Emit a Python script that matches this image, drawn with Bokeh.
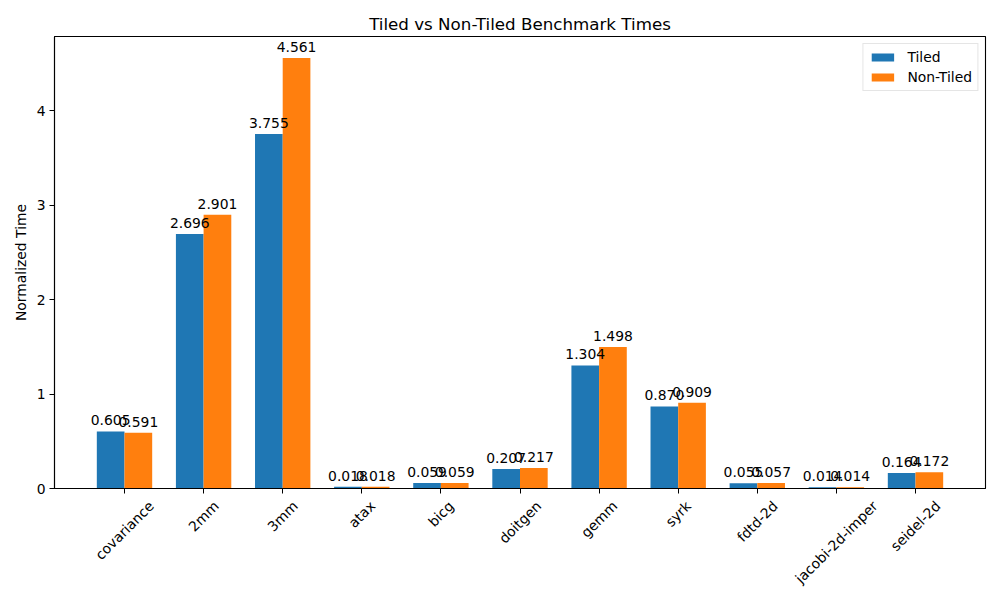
import math
from bokeh.plotting import figure
from bokeh.models import ColumnDataSource, LabelSet, Range1d, FixedTicker, LinearAxis
from bokeh.core.properties import value
from bokeh.embed import file_html
from bokeh.resources import INLINE

categories = ["covariance", "2mm", "3mm", "atax", "bicg", "doitgen", "gemm",
              "syrk", "fdtd-2d", "jacobi-2d-imper", "seidel-2d"]
tiled = [0.605, 2.696, 3.755, 0.018, 0.059, 0.207, 1.304, 0.870, 0.055, 0.014, 0.164]
non_tiled = [0.591, 2.901, 4.561, 0.018, 0.059, 0.217, 1.498, 0.909, 0.057, 0.014, 0.172]
y_ticks = [0, 1, 2, 3, 4]

FONT = "DejaVu Sans"
FS = "13.9px"
BLUE = "#1f77b4"
ORANGE = "#ff7f0e"
W = 0.35

idx = list(range(len(categories)))
x_t = [i - W / 2 for i in idx]
x_n = [i + W / 2 for i in idx]

ymax = max(max(tiled), max(non_tiled)) * 1.05
n = len(categories)
span = (n - 1) + W * 2
xmin = -W - 0.05 * span
xmax = (n - 1) + W + 0.05 * span

FIG_W, FIG_H = 992, 600
BL, BR, BT, BB = 54, 7, 36, 112

p = figure(width=FIG_W, height=FIG_H, output_backend="svg", toolbar_location=None,
           x_range=Range1d(xmin, xmax), y_range=Range1d(0, ymax),
           min_border_left=BL, min_border_right=BR, min_border_top=BT,
           min_border_bottom=BB)

p.title.text = "Tiled vs Non-Tiled Benchmark Times"
p.title.align = "center"
p.title.text_font = FONT
p.title.text_font_size = "16.7px"
p.title.text_font_style = "normal"
p.title.text_color = "black"
p.title.standoff = 5

src_t = ColumnDataSource(dict(x=x_t, top=tiled, lab=["%.3f" % v for v in tiled]))
src_n = ColumnDataSource(dict(x=x_n, top=non_tiled, lab=["%.3f" % v for v in non_tiled]))

p.vbar(x="x", top="top", width=W, bottom=0, source=src_t, fill_color=BLUE,
       line_color=None, legend_label="Tiled")
p.vbar(x="x", top="top", width=W, bottom=0, source=src_n, fill_color=ORANGE,
       line_color=None, legend_label="Non-Tiled")

for src in (src_t, src_n):
    p.add_layout(LabelSet(x="x", y="top", text="lab", source=src, y_offset=6,
                          text_align="center", text_baseline="bottom",
                          text_font=value(FONT), text_font_size=value(FS),
                          text_color="black"))

p.xgrid.visible = False
p.ygrid.visible = False
p.outline_line_color = "black"
p.outline_line_width = 1.1

# primary x axis: tick marks only (labels not drawn)
p.xaxis.ticker = FixedTicker(ticks=idx)
p.yaxis.ticker = FixedTicker(ticks=y_ticks)
for ax in (p.xaxis[0], p.yaxis[0]):
    ax.minor_tick_line_color = None
    ax.major_tick_out = 5
    ax.major_tick_in = 0
    ax.major_tick_line_color = "black"
    ax.axis_line_color = "black"
    ax.axis_line_width = 1.1
    ax.major_label_text_font = FONT
    ax.major_label_text_color = "black"
p.xaxis.major_label_text_font_size = "1px"
p.xaxis.major_label_standoff = 0
p.xaxis.major_label_text_color = None
p.yaxis.major_label_text_font_size = FS
p.yaxis.major_label_standoff = 4
p.yaxis.axis_label = "Normalized Time"
p.yaxis.axis_label_text_font = FONT
p.yaxis.axis_label_text_font_size = FS
p.yaxis.axis_label_text_font_style = "normal"
p.yaxis.axis_label_text_color = "black"
p.yaxis.axis_label_standoff = 5

# secondary x axis: rotated category labels, centred under ticks as in the reference
adv = {"c": 1126, "o": 1253, "v": 1212, "a": 1255, "r": 842, "i": 569, "n": 1298,
       "e": 1260, "2": 1303, "m": 1995, "3": 1303, "t": 803, "x": 1212, "b": 1300,
       "g": 1300, "d": 1300, "s": 1067, "y": 1212, "k": 1186, "f": 721, "-": 739,
       "j": 569, "p": 1300, "l": 569}
px = 13.9
frame_w = FIG_W - BL - BR
px_per_unit = frame_w / (xmax - xmin)
lab_ticks = []
overrides = {}
for i, c in enumerate(categories):
    w = sum(adv.get(ch, 1200) for ch in c) / 2048 * px
    t = round(i + 0.3535 * w / px_per_unit, 4)
    lab_ticks.append(t)
    overrides[t] = c
ax2 = LinearAxis(ticker=FixedTicker(ticks=lab_ticks), major_label_overrides=overrides,
                 major_label_orientation=math.pi / 4, axis_line_color=None,
                 major_tick_line_color=None, minor_tick_line_color=None,
                 major_tick_out=0, major_tick_in=0, major_label_standoff=10,
                 major_label_text_font=FONT, major_label_text_font_size=FS,
                 major_label_text_color="black")
p.add_layout(ax2, "below")

lg = p.legend[0]
lg.location = "top_right"
lg.margin = 7
lg.padding = 5
lg.spacing = 4
lg.label_standoff = 11
lg.glyph_width = 28
lg.glyph_height = 10
lg.label_height = 14
lg.label_text_font = FONT
lg.label_text_font_size = FS
lg.label_text_color = "black"
lg.border_line_color = "#cccccc"
lg.border_line_width = 1
lg.background_fill_alpha = 0.8

open("out.html", "w").write(file_html(p, INLINE))
